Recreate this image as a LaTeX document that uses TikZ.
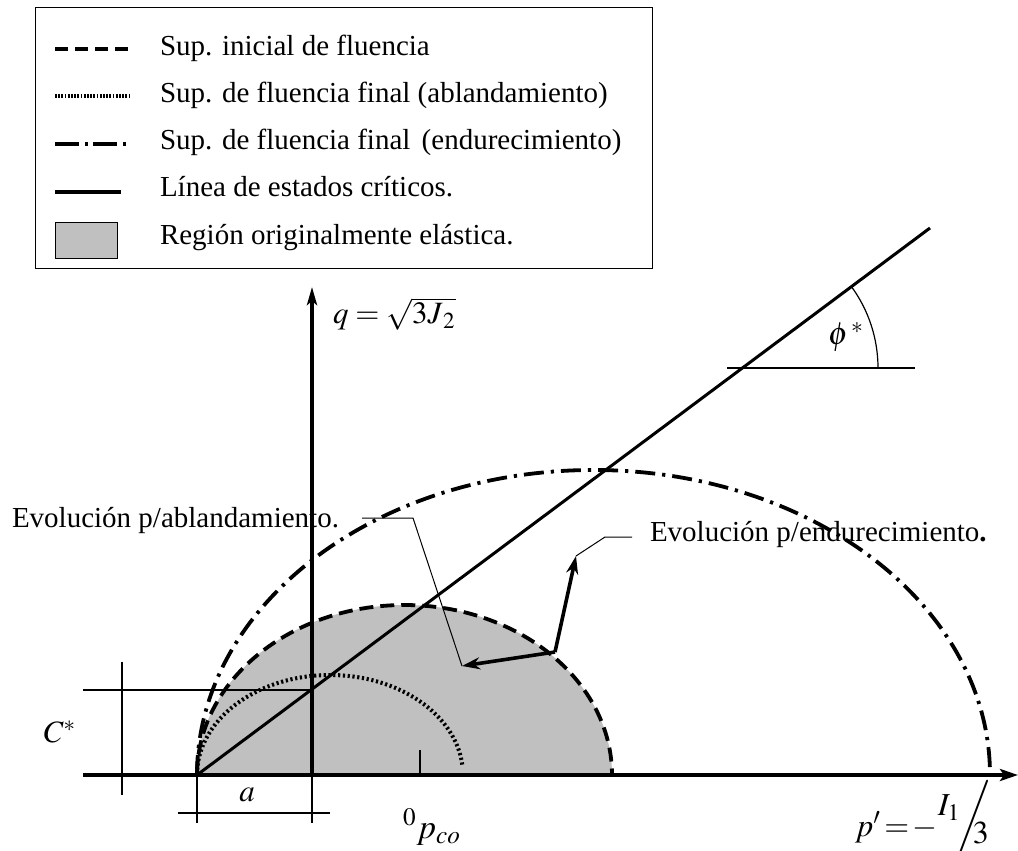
\documentclass[tikz,border=0pt]{standalone}
\usepackage{mathptmx}
\usepackage{fontspec}
\setmainfont{Liberation Serif}
\usetikzlibrary{arrows.meta}
\definecolor{regiongray}{RGB}{192,192,192}
\tikzset{
  axisline/.style={line width=2pt},
  thinline/.style={line width=0.6pt},
  critline/.style={line width=1.5pt},
  inidash/.style={line width=1.9pt, dash pattern=on 7pt off 3.5pt},
  dotcurve/.style={line width=2pt, dash pattern=on 1.1pt off 1.3pt},
  dashdotcurve/.style={line width=1.9pt, dash pattern=on 10pt off 3.5pt on 1.6pt off 3.5pt},
  evo/.style={line width=1.8pt, -{Stealth[length=9pt,width=6pt]}},
  leader/.style={line width=0.5pt},
  lbl/.style={inner sep=0pt, outer sep=0pt},
  legtext/.style={lbl, anchor=base west},
}
\begin{document}
\begin{tikzpicture}[x=0.5pt,y=-0.5pt, font=\fontsize{14.5}{17}\selectfont]
\useasboundingbox[fill=white] (0,0) rectangle (1018,851);

% ---------- legend ----------
\node[draw, line width=0.5pt, minimum width=308.5pt, minimum height=130.5pt, anchor=north west, inner sep=0pt] (legend) at (35,7) {};
\coordinate (l1a) at (55,49);  \coordinate (l1b) at (128,49);
\coordinate (l2a) at (55,96);  \coordinate (l2b) at (130,96);
\coordinate (l3a) at (55,144); \coordinate (l3b) at (131,144);
\coordinate (l4a) at (55,192); \coordinate (l4b) at (121,192);
\draw[line width=1.8pt, dash pattern=on 6.5pt off 3.5pt] (l1a) -- (l1b);
\draw[line width=1.8pt, dash pattern=on 0.9pt off 0.7pt] (l2a) -- (l2b);
\draw[line width=1.8pt, dash pattern=on 12pt off 3pt on 1.5pt off 2.5pt] (l3a) -- (l3b);
\draw[line width=1.6pt] (l4a) -- (l4b);
\node[draw, fill=regiongray, line width=0.5pt, minimum width=31pt, minimum height=18pt, anchor=north west, inner sep=0pt] (legbox) at (55,222) {};
\node[legtext] (t1) at (160,55)  {Sup. inicial de fluencia};
\node[legtext] (t2) at (160,102) {Sup. de fluencia final (ablandamiento)};
\node[legtext] (t3) at (160,149) {Sup. de fluencia final\hspace{2pt} (endurecimiento)};
\node[legtext] (t4) at (160,196) {Línea de estados críticos.};
\node[legtext] (t5) at (160,244) {Región originalmente elástica.};

% ---------- key points ----------
\coordinate (A) at (197,775);     % common left vertex
\coordinate (O) at (312,775);     % origin
\coordinate (Xs) at (83,775);
\coordinate (Xe) at (1018,775);
\coordinate (Ye) at (312,287);
\coordinate (Ctop) at (930,228);

% gray elastic region + initial surface
\fill[regiongray] (A) arc[start angle=180, end angle=360, x radius=207.5, y radius=170] -- cycle;
\draw[inidash] (A) arc[start angle=180, end angle=360, x radius=207.5, y radius=170];
% softening surface
\draw[dotcurve] (A) arc[start angle=180, end angle=355, x radius=133, y radius=100];
% hardening surface
\draw[dashdotcurve] (A) arc[start angle=180, end angle=360, x radius=396.5, y radius=305];

% dimension lines
\coordinate (c1) at (122,662); \coordinate (c2) at (122,795);
\coordinate (h1) at (83,690);  \coordinate (h2) at (312,690);
\coordinate (a1) at (197,823); \coordinate (a2) at (312,823);
\coordinate (a3) at (178,813); \coordinate (a4) at (330,813);
\coordinate (p1) at (420,750); \coordinate (p2) at (420,775);
\draw[thinline] (c1) -- (c2);
\draw[thinline] (h1) -- (h2);
\draw[thinline] (A) -- (a1);
\draw[thinline] (O) -- (a2);
\draw[thinline] (a3) -- (a4);
\draw[thinline] (p1) -- (p2);

% critical state line
\draw[critline] (A) -- (Ctop);
% angle
\coordinate (f1) at (727,368); \coordinate (f2) at (915,368);
\coordinate (f3) at (878,368);
\draw[thinline] (f1) -- (f2);
\draw[thinline] (f3) arc[start angle=0, end angle=-36.5, radius=138];

% axes
\draw[axisline, -{Stealth[length=9pt,width=6pt,inset=2pt]}] (Xs) -- (Xe);
\draw[axisline, -{Stealth[length=9pt,width=5pt,inset=2pt]}] (O) -- (Ye);

% evolution arrows
\coordinate (P) at (555,652);
\coordinate (S) at (462,666);
\coordinate (H) at (576,556);
\draw[evo] (P) -- (S);
\draw[evo] (P) -- (H);
\coordinate (s1) at (413,518); \coordinate (s2) at (362,518);
\coordinate (e1) at (605,537); \coordinate (e2) at (632,537);
\draw[leader] (S) -- (s1) -- (s2);
\draw[leader] (H) -- (e1) -- (e2);
\node[legtext] (evsoft) at (12,527) {Evolución p/ablandamiento.};
\node[legtext] (evhard) at (650,541) {Evolución p/endurecimiento{\bfseries .}};

% labels
\node[lbl, anchor=west, font=\fontsize{15.5}{18}\selectfont] (qlab) at (333,314) {$q=\sqrt{3J_{\,2}}$};
\node[lbl, font=\fontsize{16}{19}\selectfont] (philab) at (846,337) {$\phi^{\,*}$};
\node[lbl, font=\fontsize{15.5}{18}\selectfont] (Clab) at (60,732) {$C^{*}$};
\node[lbl, font=\fontsize{15.5}{18}\selectfont] (alab) at (247,795) {$a$};
\node[lbl, anchor=base west, font=\fontsize{17}{20}\selectfont] (pco) at (403,838) {${}^{0}p_{co}$};
\node[lbl, anchor=base west, font=\fontsize{16}{19}\selectfont] (plab) at (855,836) {$p'\!=\!-\raisebox{1.4ex}{$I_{1}$}\!\!\!\Bigg/\!\!\!\!\!\raisebox{-0.5ex}{$3$}$};
\end{tikzpicture}
\end{document}
